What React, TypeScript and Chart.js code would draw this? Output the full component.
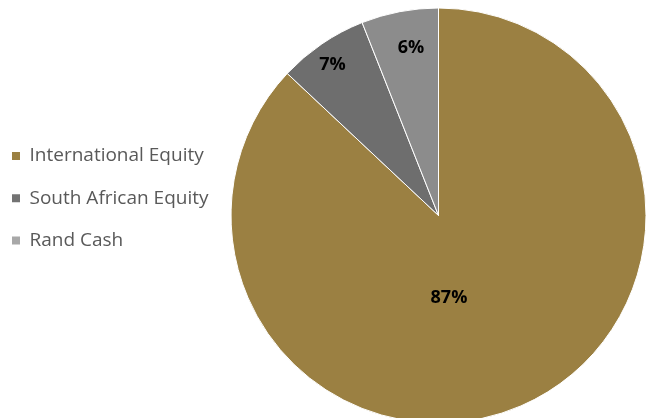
import React, { useEffect, useRef } from "react";
import { Chart, registerables } from "chart.js";

Chart.register(...registerables);

const categories = ["International Equity", "South African Equity", "Rand Cash"];
const values = [87, 7, 6];
const valueLabels = ["87%", "7%", "6%"];
const sliceColors = ["#9B8042", "#6E6E6E", "#8C8C8C"];
const legendColors = ["#9B8042", "#737373", "#A8A8A8"];
// label placement relative to each slice: fraction of radius, angle shift (deg)
const labelRadiusFrac = [0.402, 0.887, 0.82];
const labelAngleShift = [16.2, -1.0, 1.5];

const FONT = "'Open Sans', 'DejaVu Sans', sans-serif";

const layoutFix = {
  id: "layoutFix",
  beforeLayout(chart: any) {
    const lg = chart.legend;
    if (lg && !lg.__wrapped) {
      const orig = lg.fit.bind(lg);
      lg.fit = function () {
        orig();
        this.width = 231;
      };
      lg.__wrapped = true;
    }
  },
  afterLayout(chart: any) {
    const lg = chart.legend;
    if (!lg) return;
    lg.left = -11.25;
    lg.right = 231;
    lg.top = 123.25;
    lg.bottom = 430;
  },
};

const sliceLabels = {
  id: "sliceLabels",
  afterDatasetsDraw(chart: any) {
    const ctx = chart.ctx;
    const meta = chart.getDatasetMeta(0);
    ctx.save();
    ctx.font = `bold 18px ${FONT}`;
    ctx.fillStyle = "#000000";
    ctx.textAlign = "center";
    ctx.textBaseline = "middle";
    meta.data.forEach((arc: any, i: number) => {
      const p = arc.getProps(["x", "y", "startAngle", "endAngle", "outerRadius"], true);
      const mid = (p.startAngle + p.endAngle) / 2 + (labelAngleShift[i] * Math.PI) / 180;
      const r = p.outerRadius * labelRadiusFrac[i];
      ctx.fillText(valueLabels[i], p.x + Math.cos(mid) * r, p.y + Math.sin(mid) * r);
    });
    ctx.restore();
  },
};

export default function App() {
  const ref = useRef<HTMLCanvasElement>(null);
  useEffect(() => {
    if (!ref.current) return;
    const chart = new Chart(ref.current, {
      type: "pie",
      data: {
        labels: categories,
        datasets: [
          {
            data: values,
            backgroundColor: sliceColors,
            borderColor: "#ffffff",
            borderWidth: 1,
            radius: 207.5,
          } as any,
        ],
      },
      options: {
        responsive: false,
        animation: false,
        layout: { padding: { left: 0, right: 3, top: 8, bottom: 7 } },
        plugins: {
          tooltip: { enabled: false },
          legend: {
            position: "left",
            align: "start",
            labels: {
              boxWidth: 8,
              boxHeight: 8,
              padding: 23.25,
              color: "#595959",
              font: { family: FONT, size: 19, lineHeight: 1 },
              generateLabels: () =>
                categories.map((c, i) => ({
                  text: c,
                  fillStyle: legendColors[i],
                  strokeStyle: legendColors[i],
                  lineWidth: 0,
                  hidden: false,
                  index: i,
                  fontColor: "#595959",
                })),
            },
          },
        },
      },
      plugins: [layoutFix, sliceLabels],
    });
    return () => chart.destroy();
  }, []);
  return (
    <div style={{ position: "fixed", left: 0, top: 0, width: 649, height: 430 }}>
      <canvas ref={ref} width={649} height={430} style={{ display: "block" }} />
    </div>
  );
}
